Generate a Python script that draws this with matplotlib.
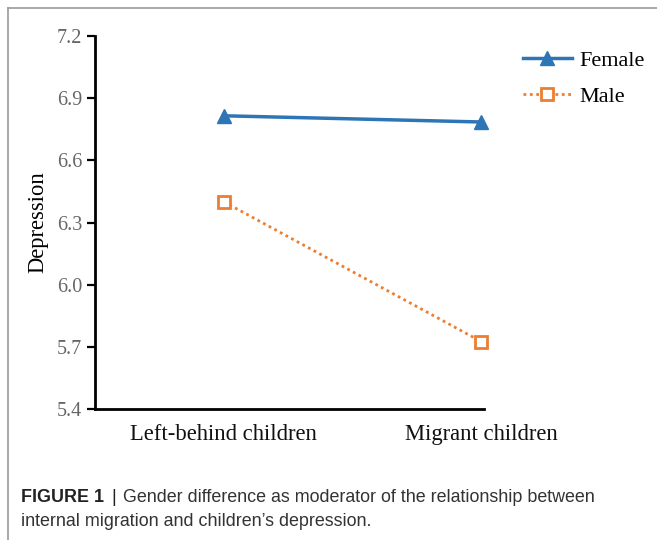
import matplotlib
matplotlib.use('Agg')
import matplotlib.pyplot as plt
from matplotlib.lines import Line2D

# Data
groups = ['Left-behind children', 'Migrant children']
female = [6.815, 6.785]
male = [6.40, 5.725]
yticks = [5.4, 5.7, 6.0, 6.3, 6.6, 6.9, 7.2]

W, H = 657, 540
fig = plt.figure(figsize=(W / 100, H / 100), dpi=100)

# light frame around the panel (top and left edges only visible)
fig.add_artist(Line2D([8 / W, 1], [1 - 8 / H, 1 - 8 / H], color='#9a9a9a', lw=1.2))
fig.add_artist(Line2D([8 / W, 8 / W], [0, 1 - 8 / H], color='#9a9a9a', lw=1.2))

ax = fig.add_axes([95 / W, 1 - 409 / H, (484 - 95) / W, (409 - 36) / H])
x = [0, 1]
ax.plot(x, female, color='#2E75B6', lw=2.5, marker='^', markersize=10,
        markeredgecolor='#2E75B6', label='Female', clip_on=False)
ax.plot(x, male, color='#ED7D31', lw=2, linestyle=(0, (1, 1.3)), marker='s',
        markersize=9, markerfacecolor='white', markeredgecolor='#ED7D31',
        markeredgewidth=2, label='Male', clip_on=False)

ax.set_xlim(-0.5, 1.01)
ax.set_ylim(5.4, 7.2)
ax.set_yticks(yticks)
ax.set_yticklabels(['%.1f' % v for v in yticks], fontsize=14.5,
                   family='Liberation Serif', color='#666666')
ax.set_xticks(x)
ax.set_xticklabels(groups, fontsize=16.3, family='Liberation Serif', color='#111111')
ax.tick_params(axis='x', length=0, pad=11)
ax.tick_params(axis='y', length=6, width=1.6, direction='out', pad=3)
for s in ['top', 'right']:
    ax.spines[s].set_visible(False)
for s in ['left', 'bottom']:
    ax.spines[s].set_linewidth(2)
ax.set_ylabel('Depression', fontsize=16.3, family='Liberation Serif')
ax.yaxis.set_label_coords(-0.12, 0.5)

leg = fig.legend(loc='upper left', bbox_to_anchor=(523 / W, 1 - 50 / H),
                 frameon=False, prop={'family': 'Liberation Serif', 'size': 16},
                 handlelength=2.2, handletextpad=0.35, labelspacing=0.72,
                 borderpad=0, borderaxespad=0)

# caption
fig.canvas.draw()
r = fig.canvas.get_renderer()
y1 = 1 - 497 / H
y2 = 1 - 521 / H
cap = 12.9
t1 = fig.text(21 / W, y1, 'FIGURE 1', fontsize=cap, fontweight='bold',
              family='Liberation Sans', color='#222222', va='center')
bb = t1.get_window_extent(r)
t2 = fig.text((bb.x1 + 7) / W, y1, '|', fontsize=cap, family='Liberation Sans',
              color='#222222', va='center')
bb = t2.get_window_extent(r)
fig.text((bb.x1 + 7) / W, y1,
         'Gender difference as moderator of the relationship between',
         fontsize=cap, family='Liberation Sans', color='#333333', va='center')
fig.text(21 / W, y2, 'internal migration and children\u2019s depression.',
         fontsize=cap, family='Liberation Sans', color='#333333', va='center')

fig.savefig('out.png', dpi=100)
